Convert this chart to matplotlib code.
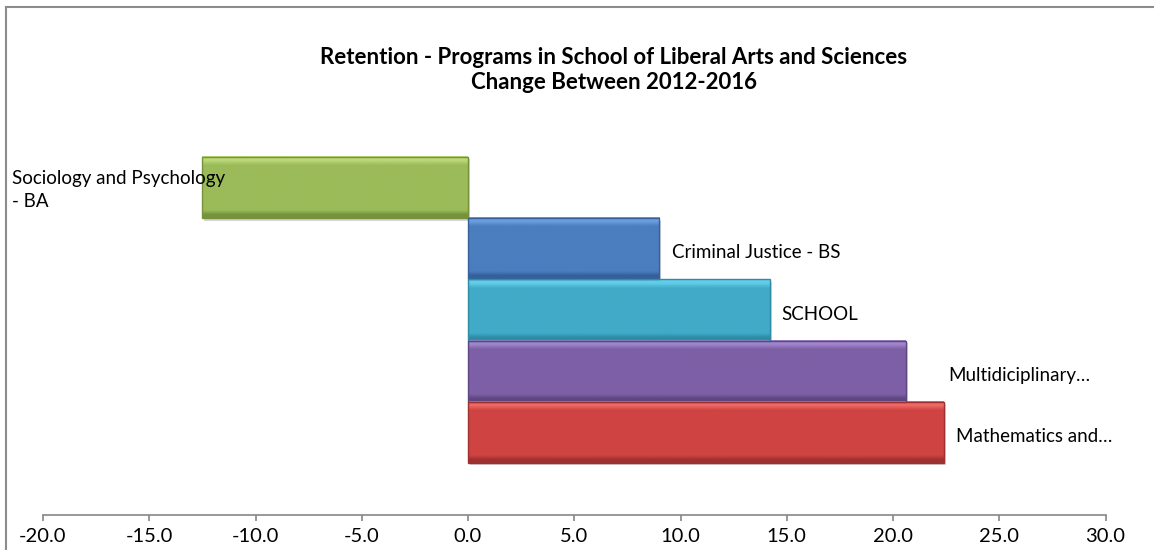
import numpy as np
import matplotlib
matplotlib.use('Agg')
import matplotlib.pyplot as plt
from matplotlib.colors import LinearSegmentedColormap
from matplotlib.lines import Line2D
import matplotlib.transforms as mtransforms

# data (top to bottom as shown)
categories = ["Sociology and Psychology - BA", "Criminal Justice - BS", "SCHOOL",
              "Multidiciplinary Studies - BS", "Mathematics and Computer Science - BS"]
bar_labels = ["Sociology and Psychology\n- BA", "Criminal Justice - BS", "SCHOOL",
              "Multidiciplinary…", "Mathematics and…"]
values = [-12.5, 9.0, 14.2, 20.6, 22.4]
xticks = [-20, -15, -10, -5, 0, 5, 10, 15, 20, 25, 30]

# light / base / dark per bar
bar_colors = [("#bcd97a", "#9bbb59", "#76923c"),
              ("#6d9fe0", "#4a7ebf", "#35609a"),
              ("#62cde8", "#40aac8", "#2f8ba6"),
              ("#a286cc", "#7d5fa6", "#5e4680"),
              ("#ee6a66", "#cf4442", "#9e312f")]
label_pad = [0, 13, 12, 43, 12]   # px gap after bar end

plt.rcParams['font.family'] = ['Lato', 'DejaVu Sans']

fig = plt.figure(figsize=(11.54, 5.5), dpi=100)
ax = fig.add_axes([43/1154, 35/550, 1062.5/1154, 407/550])

n = len(values)
ypos = np.arange(n)[::-1]
bars = ax.barh(ypos, values, height=1.0, color=[c[1] for c in bar_colors],
               edgecolor='none', zorder=2)

grad = np.linspace(0, 1, 64).reshape(-1, 1)
shadow_tr = ax.transData + mtransforms.ScaledTranslation(2/100, -2.5/100, fig.dpi_scale_trans)
for b, (lt, base, dk) in zip(bars, bar_colors):
    x0, y0, w, h = b.get_x(), b.get_y(), b.get_width(), b.get_height()
    cmap = LinearSegmentedColormap.from_list('g', [(0, dk), (0.05, dk), (0.12, base),
                                                     (0.86, base), (0.94, lt), (1, lt)])
    ax.add_patch(plt.Rectangle((x0, y0), w, h, transform=shadow_tr, facecolor='#8a8a8a',
                               alpha=0.35, edgecolor='none', zorder=1))
    ax.imshow(grad, cmap=cmap, extent=(x0, x0 + w, y0, y0 + h), origin='lower',
              aspect='auto', zorder=3, interpolation='bilinear')
    ax.add_patch(plt.Rectangle((x0, y0), w, h, fill=False, edgecolor=dk, lw=1.0, zorder=4))

ax.set_xlim(-20, 30)
ax.set_ylim(-1.35, 5.3)

# data labels (category names)
for i, (lab, v, y) in enumerate(zip(bar_labels, values, ypos)):
    if v < 0:
        tr = mtransforms.blended_transform_factory(fig.transFigure, ax.transData)
        ax.text(12/1154, y - 0.04, lab, transform=tr, ha='left', va='center', fontsize=13.5,
                color='black', linespacing=1.45, zorder=5)
    else:
        ax.annotate(lab, xy=(v, y), xytext=(label_pad[i]*0.72, -3), textcoords='offset points',
                    ha='left', va='center', fontsize=13.5, color='black', zorder=5)

for s in ['left', 'right', 'top']:
    ax.spines[s].set_visible(False)
ax.spines['bottom'].set_color('#868686')
ax.spines['bottom'].set_linewidth(1.2)
ax.set_yticks([])
ax.set_xticks(xticks)
ax.set_xticklabels(['%.1f' % t for t in xticks], fontsize=14.5)
ax.tick_params(axis='x', direction='out', length=4, width=1.2, color='#868686', pad=5)
ax.patch.set_alpha(0)

fig.text(614/1154, 1 - 70/550, "Retention - Programs in School of Liberal Arts and Sciences\nChange Between 2012-2016",
         ha='center', va='center', fontsize=16, fontweight='bold', linespacing=1.25)

# chart border
fig.add_artist(Line2D([6/1154, 6/1154], [0, 1 - 7/550], transform=fig.transFigure, color='#8c8c8c', lw=1.5))
fig.add_artist(Line2D([6/1154, 1], [1 - 7/550, 1 - 7/550], transform=fig.transFigure, color='#8c8c8c', lw=1.5))

plt.savefig('out.png', dpi=100)
